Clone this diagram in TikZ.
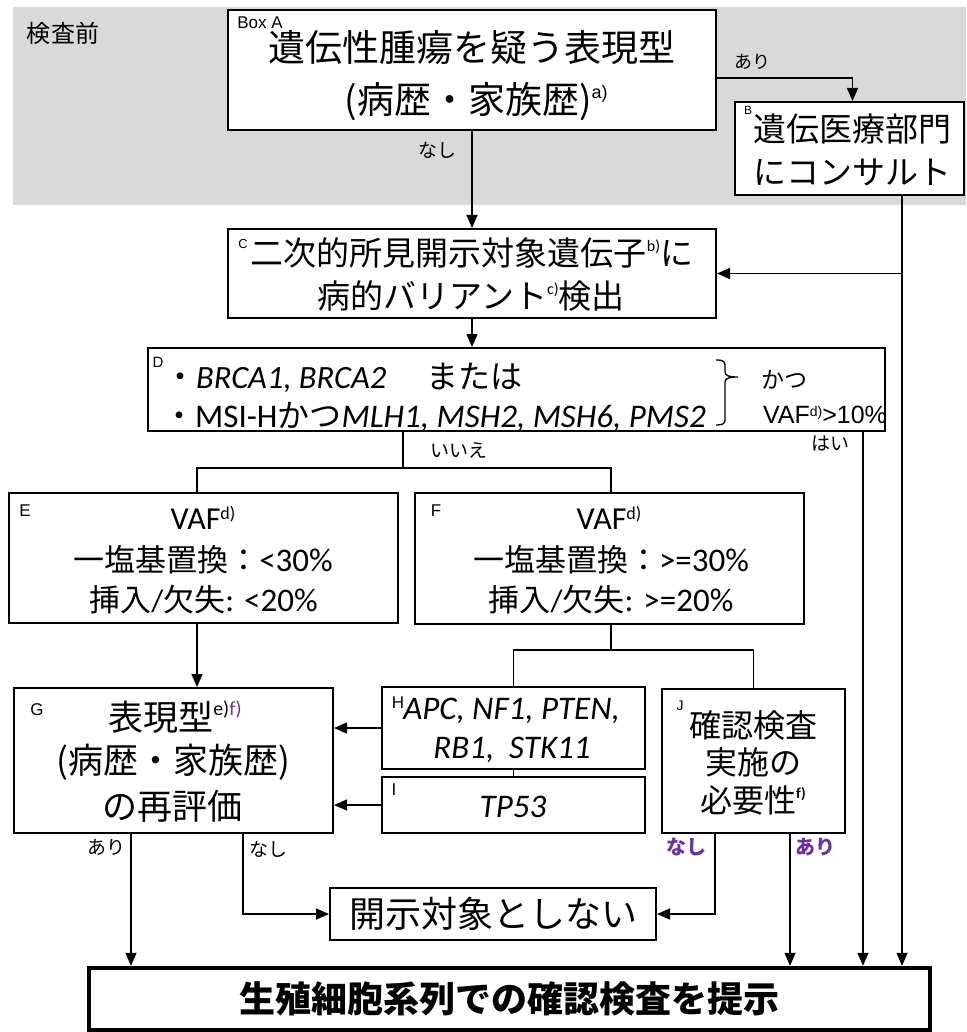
\documentclass[tikz,border=0pt]{standalone}
\usepackage{fontspec}
\setmainfont{Noto Sans CJK JP}
\newfontfamily\calf{Carlito}
\newfontfamily\arf{Liberation Sans}
\usetikzlibrary{arrows.meta}
\definecolor{bggray}{HTML}{D9D9D9}
\definecolor{purp}{HTML}{7030A0}
\newcommand\fz[1]{\fontsize{#1}{#1}\selectfont}
\newcommand\supx[3][0.42em]{\raisebox{#1}{\fontsize{#2}{#2}\selectfont #3}}
\begin{document}
\begin{tikzpicture}[x=1pt,y=-1pt,
  box/.style={draw, line width=2pt, fill=white, inner sep=0pt, anchor=center},
  txt/.style={inner sep=0pt, align=center},
  lab/.style={inner sep=0pt, font=\arf\fz{15}},
  elab/.style={inner sep=0pt, font=\fz{19}},
  plab/.style={inner sep=0pt, font=\fz{20}\bfseries, text=purp},
  conn/.style={line width=1.5pt},
  arr/.style={conn, -{Triangle[length=13pt,width=11pt]}}]
\useasboundingbox (0,0) rectangle (966,1032);
\fill[bggray] (13,7) rectangle (966,205);
\node[txt, font=\fz{24}] (pre) at (63,33) {検査前};
% boxes
\node[box, minimum width=488pt, minimum height=120pt, line width=2.5pt] (A) at (472,70) {};
\node[box, minimum width=229pt, minimum height=93pt] (B) at (849.5,148.5) {};
\node[box, minimum width=488pt, minimum height=89pt] (C) at (472,273.5) {};
\node[box, minimum width=737pt, minimum height=83pt] (D) at (516.5,389.5) {};
\node[box, minimum width=389pt, minimum height=130pt] (E) at (203.5,558) {};
\node[box, minimum width=389pt, minimum height=131pt] (F) at (609.5,558.5) {};
\node[box, minimum width=319pt, minimum height=145pt] (G) at (173.5,760.5) {};
\node[box, minimum width=263pt, minimum height=82pt] (H) at (513.5,728) {};
\node[box, minimum width=263pt, minimum height=56pt] (I) at (513.5,805) {};
\node[box, minimum width=183pt, minimum height=144pt] (J) at (753.5,761) {};
\node[box, minimum width=326pt, minimum height=52pt, font=\fz{36}] (N) at (493,914) {開示対象としない};
\node[box, minimum width=841pt, minimum height=62pt, line width=4.5pt, font=\fz{36}\bfseries] (Bot) at (509.5,999) {生殖細胞系列での確認検査を提示};
% box texts
\node[txt, font=\fz{37}] (A1) at (472,48) {遺伝性腫瘍を疑う表現型};
\node[txt, font=\fz{37}] (A2) at (476,102) {(病歴・家族歴)\supx{18}{\arf a)}};
\node[lab, font=\arf\fz{17}] (Alab) at (260,23) {Box A};
\node[txt, font=\fz{33}] (B1) at (852,129) {遺伝医療部門};
\node[txt, font=\fz{33}] (B2) at (852,172) {にコンサルト};
\node[lab, font=\arf\fz{12}] (Blab) at (748,110) {B};
\node[txt, font=\fz{33}] (C1) at (472,253) {二次的所見開示対象遺伝子\supx{16}{\calf b)}に};
\node[txt, font=\fz{33}] (C2) at (471,296) {病的バリアント\supx{16}{\calf c)}検出};
\node[lab, font=\arf\fz{13}] (Clab) at (243,244) {C};
\node[txt, anchor=west, font=\fz{32}] (D1) at (164,378) {・{\calf\itshape\fontsize{32.5}{33}\selectfont BRCA1, BRCA2}\hspace{40pt}または};
\node[txt, anchor=west, font=\fz{32}] (D2) at (163,417) {・{\calf\fontsize{33}{33}\selectfont MSI-H}かつ{\calf\itshape\fontsize{33}{33}\selectfont MLH1, MSH2, MSH6, PMS2}};
\node[lab, font=\arf\fz{15}] (Dlab) at (158,362) {D};
\draw[line width=1.3pt] (716,360) .. controls (725,360) and (725,362) .. (725,368) -- (725,372) .. controls (725,376) and (730,377) .. (738,377) .. controls (730,377) and (725,378) .. (725,382) -- (725,420) .. controls (725,424) and (722,425) .. (716,425);
\node[txt, font=\fz{23}] (kt) at (784,380) {かつ};
\node[txt, font=\arf\fz{25}] (vaf) at (825,415) {VAF\supx[0.3em]{14}{d)}>10\%};
\node[elab] (iie) at (459,450) {いいえ};
\node[elab] (hai) at (830,444) {はい};
\node[elab] (nA) at (437,150) {なし};
\node[elab, font=\fz{18}] (aA) at (752,62) {あり};
\node[txt, font=\calf\fz{32}] (E1) at (203,518) {VAF\supx[0.3em]{18}{d)}};
\node[txt, font=\fz{31}] (E2) at (203,560) {一塩基置換：{\calf\fontsize{33}{33}\selectfont <30\%}};
\node[txt, font=\fz{31}] (E3) at (203.5,600) {挿入{\calf /}欠失{\calf\fontsize{33}{33}\selectfont : <20\%}};
\node[lab, font=\arf\fz{17}] (Elab) at (25,511) {E};
\node[txt, font=\calf\fz{32}] (F1) at (609,518) {VAF\supx[0.3em]{18}{d)}};
\node[txt, font=\fz{31}] (F2) at (611,560) {一塩基置換：{\calf\fontsize{33}{33}\selectfont >=30\%}};
\node[txt, font=\fz{31}] (F3) at (611,600) {挿入{\calf /}欠失{\calf\fontsize{33}{33}\selectfont : >=20\%}};
\node[lab, font=\arf\fz{17}] (Flab) at (436,511) {F};
\node[txt, font=\fz{35}] (G1) at (175,717) {表現型\supx{20}{\calf e)\textcolor{purp}{f)}}};
\node[txt, font=\fz{35}] (G2) at (173.5,762) {(病歴・家族歴)};
\node[txt, font=\fz{35}] (G3) at (172,806) {の再評価};
\node[lab, font=\arf\fz{17}] (Glab) at (37,710) {G};
\node[txt, font=\calf\itshape\fz{33}] (H1) at (511.5,711) {APC, NF1, PTEN,};
\node[txt, font=\calf\itshape\fz{33}] (H2) at (512,750) {RB1,\ \ STK11};
\node[lab, font=\arf\fz{17}] (Hlab) at (398,703) {H};
\node[txt, font=\calf\itshape\fz{33}] (I1) at (513,807) {TP53};
\node[lab, font=\arf\fz{17}] (Ilab) at (394,790) {I};
\node[txt, font=\fz{32}] (J1) at (753,725) {確認検査};
\node[txt, font=\fz{32}] (J2) at (753,762) {実施の};
\node[txt, font=\fz{32}] (J3) at (753,800) {必要性\supx{15}{\calf\bfseries f)}};
\node[lab, font=\arf\fz{14}] (Jlab) at (680,706) {J};
\node[elab] (aG) at (106,847) {あり};
\node[elab] (nG) at (268,849) {なし};
\node[plab] (nJ) at (686,847) {なし};
\node[plab] (aJ) at (815,847) {あり};
% coordinates
\coordinate (xr) at (902,0);
\coordinate (xh) at (863,0);
\coordinate (xt) at (403,468);
\coordinate (xe) at (197,0);
\coordinate (ft) at (611,650);
\coordinate (g1) at (131,0);
\coordinate (g2) at (243,0);
\coordinate (j1) at (715,0);
\coordinate (j2) at (790,0);
% connectors
\draw[arr] ([yshift=-8pt]A.east) -| ([xshift=3pt]B.north);
\draw[arr] (A.south) -- (C.north);
\draw[arr] (B.south -| xr) -- (Bot.north -| xr);
\draw[arr] (C.east -| xr) -- (C.east);
\draw[arr] (C.south) -- (C.south |- D.north);
\draw[conn] (D.south -| xt) -- (xt);
\draw[conn] (E.north -| xe) |- (xt) -| (F.north -| ft);
\draw[arr] (D.south -| xh) -- (Bot.north -| xh);
\draw[arr] (E.south -| xe) -- (G.north -| xe);
\draw[conn] (F.south -| ft) -- (ft);
\draw[conn] (H.north) |- (ft) -| (J.north);
\draw[conn] (H.south) -- (I.north);
\draw[arr] (H.west) -- (H.west -| G.east);
\draw[arr] (I.west) -- (I.west -| G.east);
\draw[arr] (G.south -| g1) -- (Bot.north -| g1);
\draw[arr] (G.south -| g2) |- (N.west);
\draw[arr] (J.south -| j1) |- (N.east);
\draw[arr] (J.south -| j2) -- (Bot.north -| j2);
\end{tikzpicture}
\end{document}
